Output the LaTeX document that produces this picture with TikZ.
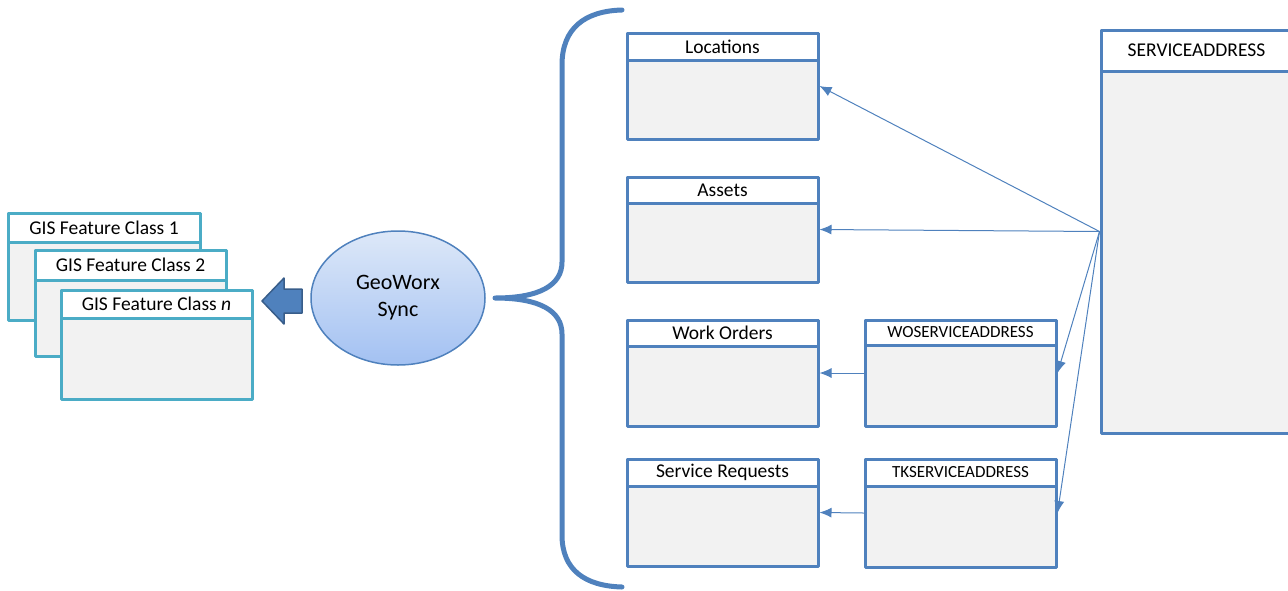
\documentclass[tikz,border=0pt]{standalone}
\usepackage{fontspec}
\setmainfont{Carlito}
\usetikzlibrary{arrows.meta,shapes.geometric}
\definecolor{tblblue}{HTML}{4F81BD}
\definecolor{tbldark}{HTML}{385D8A}
\definecolor{gisteal}{HTML}{4BACC6}
\definecolor{bodygray}{HTML}{F2F2F2}
\definecolor{synctop}{HTML}{DDE8F8}
\definecolor{syncbot}{HTML}{A3C1F2}

\begin{document}
\begin{tikzpicture}[x=1pt,y=-1pt,line cap=round,line join=round]
    % styles
    \tikzstyle{tbl}=[draw=tblblue,line width=3pt,fill=bodygray,inner sep=0pt]
    \tikzstyle{hdr}=[draw=tblblue,line width=3pt,fill=white,inner sep=0pt,anchor=north,
                     font=\fontsize{19.5}{22}\selectfont]
    \tikzstyle{gis}=[tbl,draw=gisteal]
    \tikzstyle{gishdr}=[hdr,draw=gisteal]
    \tikzstyle{link}=[draw=tblblue,line width=1pt,-{Latex[length=12pt,width=10pt]}]

    \useasboundingbox (0,0) rectangle (1288,590);

    % ----------------------------------------------------
    % GIS feature classes (stacked)
    % ----------------------------------------------------
    \node[gis,minimum width=192,minimum height=107] (gis1) at (104,266.5) {};
    \node[gishdr,minimum width=192,minimum height=29] (gis1-h) at (gis1.north) {GIS Feature Class 1};
    \node[gis,minimum width=191,minimum height=106] (gis2) at (130.5,303) {};
    \node[gishdr,minimum width=191,minimum height=30] (gis2-h) at (gis2.north) {GIS Feature Class 2};
    \node[gis,minimum width=191,minimum height=109] (gisn) at (156.5,344.5) {};
    \node[gishdr,minimum width=191,minimum height=28] (gisn-h) at (gisn.north) {GIS Feature Class \textit{n}};

    % block arrow towards the GIS side
    \filldraw[fill=tblblue,draw=tbldark,line width=1.5pt]
      (262,301) -- (284,278) -- (284,289) -- (302,289) -- (302,313)
      -- (284,313) -- (284,324) -- cycle;

    % sync engine
    \node[ellipse,draw=tblblue,line width=1.5pt,top color=synctop,bottom color=syncbot,
          minimum width=174,minimum height=134,align=center,
          font=\fontsize{22}{27}\selectfont] (sync) at (398,298) {GeoWorx\\Sync};

    % ----------------------------------------------------
    % brace round the Maximo tables
    % ----------------------------------------------------
    \draw[tblblue,line width=5pt]
      (622,10) .. controls (585,11) and (562,28) .. (562,65) -- (562,262)
      .. controls (562,285) and (540,298) .. (495,298)
      .. controls (540,298) and (562,311) .. (562,334) -- (562,535)
      .. controls (562,570) and (585,586) .. (622,587);

    % ----------------------------------------------------
    % Maximo tables
    % ----------------------------------------------------
    \node[tbl,minimum width=191,minimum height=106] (loc) at (722.5,86) {};
    \node[hdr,minimum width=191,minimum height=27] (loc-h) at (loc.north) {Locations};
    \node[tbl,minimum width=191,minimum height=105] (asset) at (722.5,229.5) {};
    \node[hdr,minimum width=191,minimum height=26] (asset-h) at (asset.north) {Assets};
    \node[tbl,minimum width=191,minimum height=106] (wo) at (722.5,373) {};
    \node[hdr,minimum width=191,minimum height=26] (wo-h) at (wo.north) {Work Orders};
    \node[tbl,minimum width=191,minimum height=107] (sr) at (722.5,512.5) {};
    \node[hdr,minimum width=191,minimum height=27] (sr-h) at (sr.north) {Service Requests};

    % address link tables
    \node[tbl,minimum width=191,minimum height=106] (woaddr) at (960.5,373) {};
    \node[hdr,minimum width=191,minimum height=25,font=\fontsize{17}{20}\selectfont]
      (woaddr-h) at (woaddr.north) {WOSERVICEADDRESS};
    \node[tbl,minimum width=191,minimum height=108] (tkaddr) at (960.5,513) {};
    \node[hdr,minimum width=191,minimum height=27,font=\fontsize{17}{20}\selectfont]
      (tkaddr-h) at (tkaddr.north) {TKSERVICEADDRESS};

    % service address (runs off the right edge)
    \node[tbl,minimum width=191,minimum height=403] (addr) at (1196.5,231.5) {};
    \node[hdr,minimum width=191,minimum height=41] (addr-h) at (addr.north) {SERVICEADDRESS};

    % ----------------------------------------------------
    % relations
    % ----------------------------------------------------
    \draw[link] (addr.west) -- (loc.east);
    \draw[link] (addr.west) -- (asset.east);
    \draw[link] (addr.west) -- (woaddr.east);
    \draw[link] (addr.west) -- (tkaddr.east);
    \draw[link] (woaddr.west) -- (wo.east);
    \draw[link] (tkaddr.west) -- (sr.east);
\end{tikzpicture}
\end{document}
